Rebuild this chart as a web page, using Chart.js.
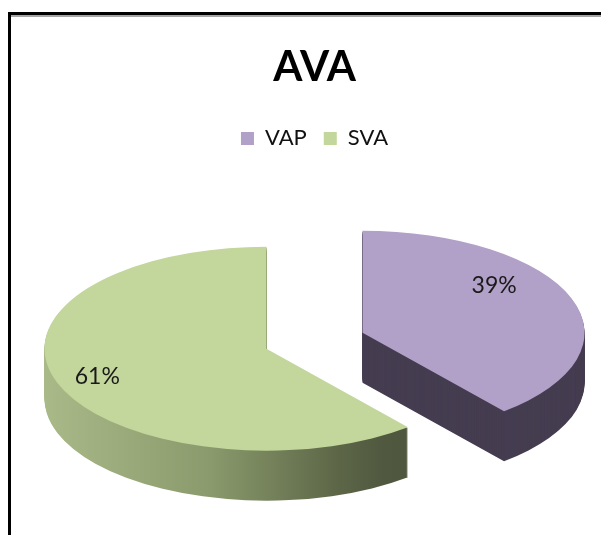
<!DOCTYPE html>
<html>
<head>
<meta charset="utf-8">
<title>AVA</title>
<script src="https://cdn.jsdelivr.net/npm/chart.js@4.4.1/dist/chart.umd.min.js"></script>
<style>
  html, body { margin: 0; padding: 0; background: #fff; overflow: hidden; }
  #wrap { position: relative; width: 601px; height: 535px; overflow: hidden; }
  #frame {
    position: absolute; left: 8px; top: 12px; width: 640px; height: 580px;
    border-left: 3px solid #000; border-top: 3px solid #000;
    box-shadow: inset 0 2px 0 #a6a6a6;
  }
  #pie { position: absolute; left: 0; top: 0; }
</style>
</head>
<body>
<div id="wrap">
  <div id="frame"></div>
  <canvas id="pie" width="601" height="535"></canvas>
</div>
<script>
var labels = ['VAP', 'SVA'];
var shares = [39, 61];

var topColors = ['#b1a0c7', '#c3d69b'];
var sideColor = '#453d50';

// look of the tilted pie
var RX = 222, RY = 102, DEPTH = 50, EXPLODE = 0.23;
var labelAt = [{turn: -18, r: 0.75}, {turn: 0, r: 0.81}];

// move into the squashed, exploded frame of one slice
function sliceFrame(ctx, chart, arc, drop) {
  var area = chart.chartArea;
  var sx = RX / arc.outerRadius, sy = RY / arc.outerRadius;
  var mid = (arc.startAngle + arc.endAngle) / 2;
  var cx = (area.left + area.right) / 2 + Math.cos(mid) * RX * EXPLODE;
  var cy = (area.top + area.bottom) / 2 + Math.sin(mid) * RY * EXPLODE;
  ctx.translate(cx, cy + drop);
  ctx.scale(sx, sy);
  ctx.translate(-arc.x, -arc.y);
  return {cx: cx, cy: cy, mid: mid};
}

// draw an arc element with another fill
function drawFilled(arc, ctx, fill) {
  var ghost = Object.create(arc);
  ghost.options = Object.assign({}, arc.options, {backgroundColor: fill, borderWidth: 0});
  arc.draw.call(ghost, ctx);
}

var tiltedPie = {
  id: 'tiltedPie',
  beforeDatasetsDraw: function(chart) {
    var ctx = chart.ctx;
    var arcs = chart.getDatasetMeta(0).data;

    // side walls, stacked from the bottom up
    arcs.forEach(function(arc, i) {
      var fill = sideColor;
      if (i === 1) {
        var g = ctx.createLinearGradient(arc.x - arc.outerRadius, 0, arc.x + arc.outerRadius * 0.66, 0);
        g.addColorStop(0, '#aab988');
        g.addColorStop(0.45, '#8a9a6c');
        g.addColorStop(0.8, '#5c6647');
        g.addColorStop(0.92, '#50583f');
        g.addColorStop(1, '#4e563d');
        fill = g;
      }
      for (var k = DEPTH; k >= 1; k--) {
        ctx.save();
        sliceFrame(ctx, chart, arc, k);
        drawFilled(arc, ctx, fill);
        ctx.restore();
      }
    });

    // top faces
    arcs.forEach(function(arc) {
      ctx.save();
      sliceFrame(ctx, chart, arc, 0);
      arc.draw(ctx);
      ctx.restore();
    });

    // percentage labels
    arcs.forEach(function(arc, i) {
      ctx.save();
      var f = sliceFrame(ctx, chart, arc, 0);
      ctx.restore();
      var a = f.mid + labelAt[i].turn * Math.PI / 180;
      ctx.save();
      ctx.font = '23px Lato';
      ctx.fillStyle = '#1a1a1a';
      ctx.textAlign = 'center';
      ctx.textBaseline = 'middle';
      ctx.fillText(shares[i] + '%', f.cx + Math.cos(a) * labelAt[i].r * RX, f.cy + Math.sin(a) * labelAt[i].r * RY);
      ctx.restore();
    });
    return false;
  }
};

new Chart(document.getElementById('pie').getContext('2d'), {
  type: 'pie',
  data: {
    labels: labels,
    datasets: [{
      data: shares,
      backgroundColor: topColors,
      borderWidth: 0
    }]
  },
  options: {
    responsive: false,
    animation: false,
    events: [],
    layout: { padding: { left: 28, right: 0, top: 0, bottom: 13 } },
    plugins: {
      title: {
        display: true,
        text: 'AVA',
        color: '#000',
        font: { family: 'Lato', size: 42, weight: 'bold' },
        padding: { top: 42, bottom: 18 }
      },
      legend: {
        display: true,
        position: 'top',
        labels: {
          boxWidth: 13,
          boxHeight: 13,
          padding: 17,
          color: '#111',
          font: { family: 'Lato', size: 22 }
        }
      },
      tooltip: { enabled: false }
    }
  },
  plugins: [tiltedPie]
});
</script>
</body>
</html>
